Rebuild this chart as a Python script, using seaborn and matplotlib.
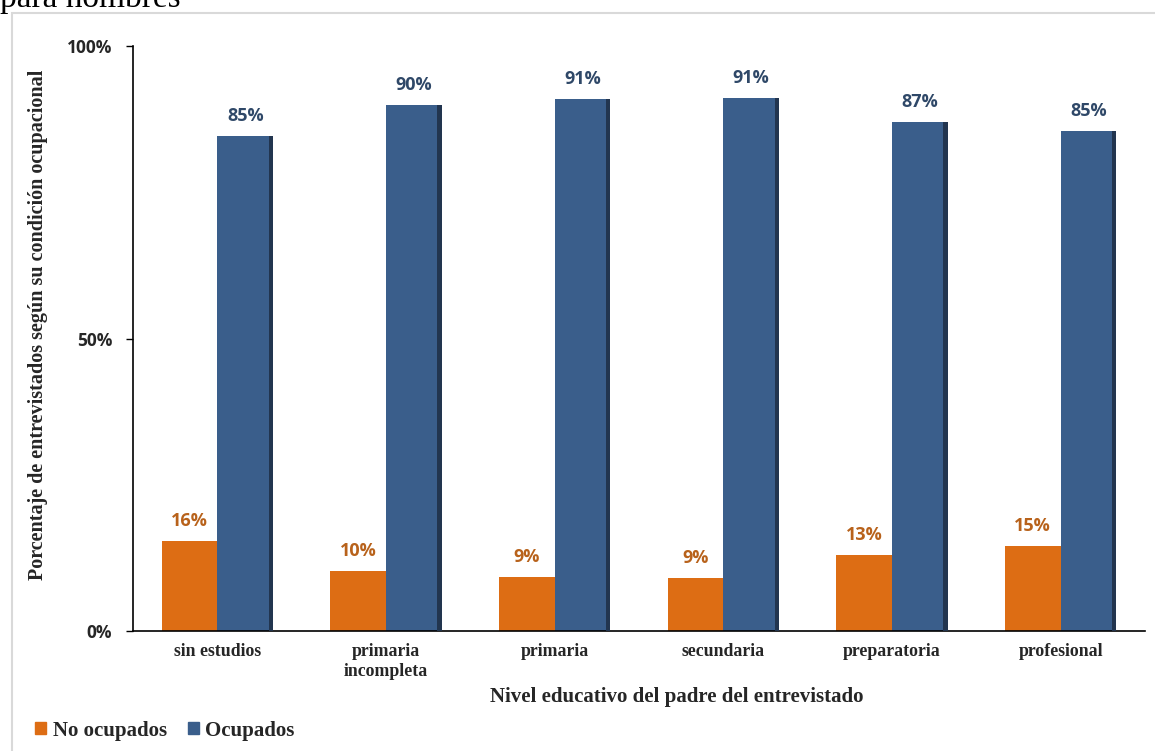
import pandas as pd
import matplotlib.pyplot as plt
import seaborn as sns
from matplotlib.patches import Rectangle, Patch

# datos
niveles = ['sin estudios', 'primaria\nincompleta', 'primaria', 'secundaria', 'preparatoria', 'profesional']
no_ocupados = [15.4, 10.3, 9.2, 9.1, 13.0, 14.5]
ocupados = [84.6, 89.9, 90.9, 91.1, 87.0, 85.5]
etiq_no = ['16%', '10%', '9%', '9%', '13%', '15%']
etiq_oc = ['85%', '90%', '91%', '91%', '87%', '85%']
series = ['No ocupados', 'Ocupados']
y_ticks = [0, 50, 100]
y_tick_labels = ['0%', '50%', '100%']

NARANJA = '#DD6D14'
AZUL = '#3A5E8B'

sns.set_theme(style='white')
plt.rcParams['font.family'] = ['Liberation Serif', 'DejaVu Serif']

df = pd.DataFrame({
    'nivel': niveles * 2,
    'serie': [series[0]] * len(niveles) + [series[1]] * len(niveles),
    'valor': no_ocupados + ocupados,
})

fig = plt.figure(figsize=(11.55, 7.51), dpi=100)
ax = fig.add_axes([0.1152, 0.1598, 0.8761, 0.7789])

sns.barplot(data=df, x='nivel', y='valor', hue='serie', order=niveles,
            hue_order=series, palette=[NARANJA, AZUL], width=0.66,
            saturation=1, legend=False, linewidth=0, gap=0, ax=ax)

# sombra oscura a la derecha de las barras azules
for p in ax.containers[1].patches:
    ax.add_patch(Rectangle((p.get_x() + p.get_width() * 0.92, 0), p.get_width() * 0.08,
                           p.get_height(), color='#22354F', lw=0, zorder=3))

ax.bar_label(ax.containers[0], labels=etiq_no, padding=8, color='#B8621B',
             fontsize=13, fontweight='bold', family=['Open Sans', 'DejaVu Sans'])
ax.bar_label(ax.containers[1], labels=etiq_oc, padding=8, color='#2F4868',
             fontsize=13, fontweight='bold', family=['Open Sans', 'DejaVu Sans'])

ax.set_ylim(0, 100)
ax.set_yticks(y_ticks)
ax.set_yticklabels(y_tick_labels, fontsize=12.5, fontweight='bold',
                   family=['Open Sans', 'DejaVu Sans'])
ax.tick_params(axis='y', which='both', left=True, length=5, width=1, color='black', pad=10)
ax.tick_params(axis='x', bottom=False, pad=3)
for lab in ax.get_xticklabels():
    lab.set_fontsize(12.8)
    lab.set_fontweight('bold')

sns.despine(ax=ax, top=True, right=True)
ax.spines['left'].set_color('black')
ax.spines['bottom'].set_color('black')
ax.spines['left'].set_linewidth(1.2)
ax.spines['bottom'].set_linewidth(1.2)

ax.set_xlabel('Nivel educativo del padre del entrevistado', fontsize=15, fontweight='bold')
ax.xaxis.set_label_coords(0.5375, -0.095)
ax.set_ylabel('Porcentaje de entrevistados según su condición ocupacional', fontsize=14.5,
              fontweight='bold')
ax.yaxis.set_label_coords(-0.084, 0.523)

# leyenda
handles = [Patch(color=NARANJA), Patch(color=AZUL)]
leg = fig.legend(handles, series, loc='lower left', bbox_to_anchor=(0.014, -0.011), ncol=2,
                 frameon=False, handlelength=0.55, handleheight=0.55, handletextpad=0.3,
                 columnspacing=1.0, prop={'weight': 'bold', 'size': 15})

# marco y texto de la página
fig.add_artist(Rectangle((12 / 1155, -0.01), 1.02, 1 - 13 / 751 + 0.01,
                         transform=fig.transFigure, fill=False, ec='#D9D9D9', lw=1.5))
fig.text(0.0, 1 - 14 / 751, 'para hombres', fontsize=24, va='bottom', ha='left', color='black')

fig.savefig('out.png', dpi=100)
